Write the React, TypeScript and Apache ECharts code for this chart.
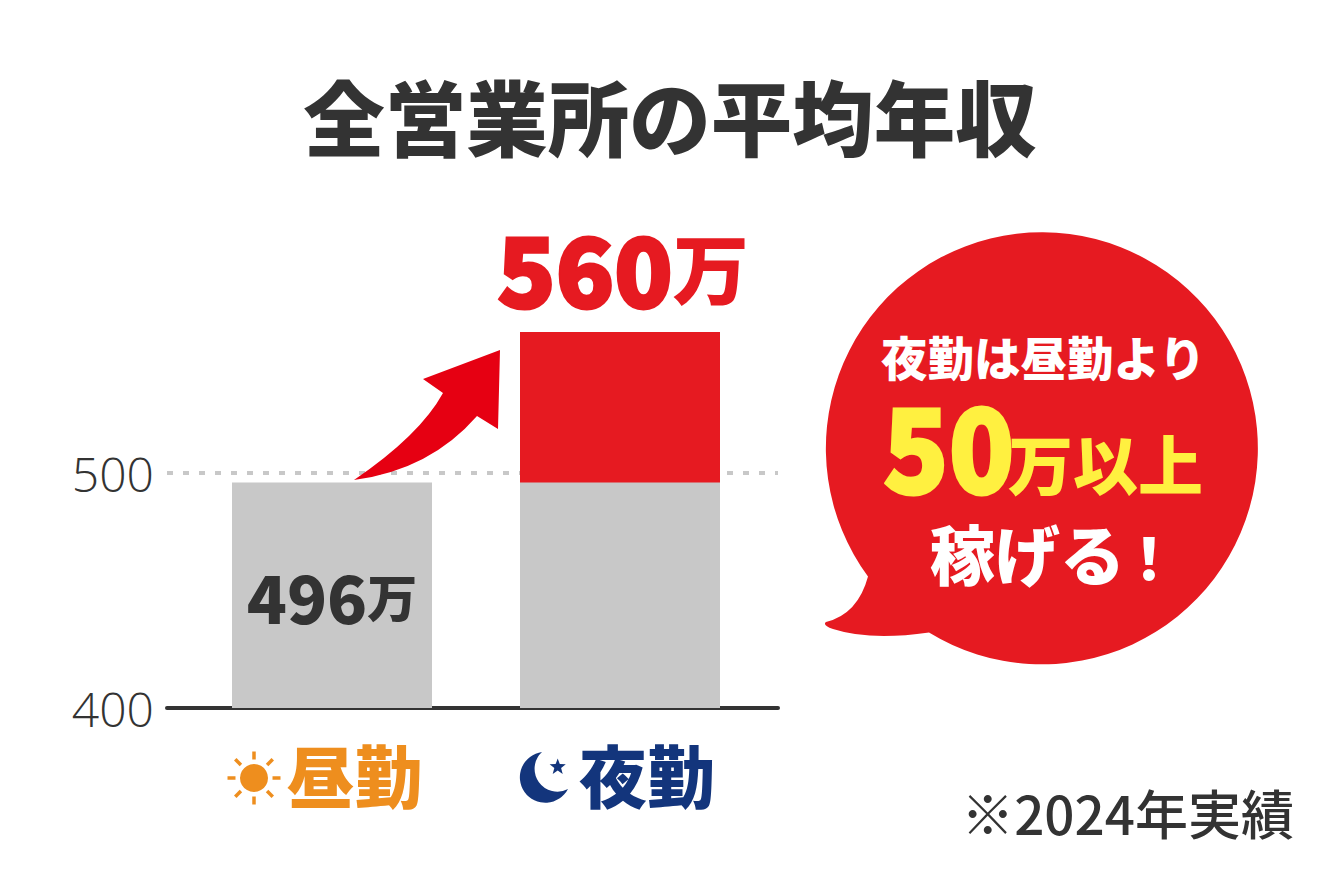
import React, { useEffect, useRef } from "react";
import * as echarts from "echarts";

const categories = ["昼勤", "夜勤"];
const baseValues = [496, 496];
const totalValues = [null, 560];
const unitLabel = "万";
const titleText = "全営業所の平均年収";
const footnote = "※2024年実績";
const bubbleLines = ["夜勤は昼勤より", "50", "万以上", "稼げる", "！"];

const FONT = '"Noto Sans CJK JP", "Noto Sans", sans-serif';
const RED = "#e61a21";

const BUBBLE_D =
  "M868 576.5 A216 216 0 1 1 929 632.5 Q870 641 833 629 Q822 625 826 622 Q858 614 868 576.5 Z";
const ARROW_D =
  "M354 480 Q420 435 443 393 L423 379 L500 350 L498 429 L477 416 Q430 470 354 480 Z";
const MOON_D = "M542 752 A25.5 25.5 0 1 0 568 789 A22.8 22.8 0 0 1 542 752 Z";

echarts.graphic.registerShape("bubbleShape", echarts.graphic.extendPath(BUBBLE_D, {}));
echarts.graphic.registerShape("arrowShape", echarts.graphic.extendPath(ARROW_D, {}));
echarts.graphic.registerShape("moonShape", echarts.graphic.extendPath(MOON_D, {}));

function starPoints(cx: number, cy: number, r: number) {
  const pts: number[][] = [];
  for (let i = 0; i < 10; i++) {
    const a = -Math.PI / 2 + (i * Math.PI) / 5;
    const rr = i % 2 === 0 ? r : r * 0.42;
    pts.push([cx + rr * Math.cos(a), cy + rr * Math.sin(a)]);
  }
  return pts;
}

function sunElements(cx: number, cy: number, color: string) {
  const els: any[] = [{ type: "circle", z: 10, shape: { cx, cy, r: 14 }, style: { fill: color } }];
  for (let i = 0; i < 8; i++) {
    const a = (i * Math.PI) / 4;
    els.push({
      type: "line",
      z: 10,
      shape: {
        x1: cx + 18.5 * Math.cos(a),
        y1: cy + 18.5 * Math.sin(a),
        x2: cx + 26.5 * Math.cos(a),
        y2: cy + 26.5 * Math.sin(a),
      },
      style: { stroke: color, lineWidth: 3.5 },
    });
  }
  return els;
}

function label(
  text: string,
  x: number,
  y: number,
  size: number,
  fill: string,
  align = "left",
  weight: any = 900,
  strokeW = 0,
  scaleX = 1
) {
  return {
    type: "text",
    z: 12,
    x,
    y,
    scaleX,
    style: {
      text,
      x: 0,
      y: 0,
      fill,
      align,
      verticalAlign: "middle",
      font: `${weight} ${size}px ${FONT}`,
      ...(strokeW ? { stroke: fill, lineWidth: strokeW } : {}),
    },
  };
}

export default function App() {
  const ref = useRef<HTMLDivElement>(null);
  useEffect(() => {
    const chart = echarts.init(ref.current!, undefined, { renderer: "svg" });
    chart.setOption({
      animation: false,
      backgroundColor: "#ffffff",
      textStyle: { fontFamily: FONT },
      title: {
        text: titleText,
        left: 665,
        top: 68,
        textAlign: "center",
        textStyle: { fontSize: 81.5, fontWeight: 900, color: "#333333", fontFamily: FONT },
      },
      grid: { left: 167, top: 238, width: 611, height: 470 },
      xAxis: {
        type: "value",
        min: -165 / 288,
        max: 446 / 288,
        splitLine: { show: false },
        axisTick: { show: false },
        axisLine: { show: true, lineStyle: { color: "#333333", width: 4, cap: "round" } },
        axisLabel: {
          customValues: [0, 1],
          margin: 31,
          formatter: (v: number) => `{${v === 0 ? "day" : "night"}|${categories[v]}}`,
          rich: {
            day: {
              fontSize: 68,
              fontWeight: 900,
              color: "#ee8e1e",
              fontFamily: FONT,
              lineHeight: 68,
              padding: [0, 0, 0, 45],
            },
            night: {
              fontSize: 68,
              fontWeight: 900,
              color: "#13357c",
              fontFamily: FONT,
              lineHeight: 68,
              padding: [0, 0, 0, 54],
            },
          },
        },
      },
      yAxis: {
        type: "value",
        min: 400,
        max: 600,
        interval: 100,
        axisLine: { show: false },
        axisTick: { show: false },
        axisLabel: {
          showMaxLabel: false,
          margin: 13,
          fontSize: 48,
          fontWeight: 300,
          color: "#333333",
          fontFamily: '"Open Sans", sans-serif',
        },
        splitLine: {
          show: true,
          showMinLine: false,
          showMaxLine: false,
          lineStyle: { color: "#c8c8c8", width: 4, type: [6, 10], cap: "butt" },
        },
      },
      series: [
        {
          type: "bar",
          barWidth: 200,
          barGap: "-100%",
          itemStyle: { color: RED },
          data: totalValues.map((v, i) => ({
            value: [i, v],
            label: {
              show: v !== null,
              position: "top",
              distance: 18,
              offset: [3, 0],
              formatter: () => `{num|${v}}{unit|${unitLabel}}`,
              rich: {
                num: {
                  fontSize: 96,
                  fontWeight: 900,
                  color: RED,
                  fontFamily: FONT,
                  textBorderColor: RED,
                  textBorderWidth: 3,
                },
                unit: { fontSize: 76, fontWeight: 900, color: RED, fontFamily: FONT },
              },
            },
          })),
        },
        {
          type: "bar",
          barWidth: 200,
          barGap: "-100%",
          itemStyle: { color: "#c8c8c8" },
          data: baseValues.map((v, i) => ({
            value: [i, v],
            label: {
              show: i === 0,
              position: "inside",
              formatter: () => `{num|${v}}{unit|${unitLabel}}`,
              rich: {
                num: { fontSize: 66, fontWeight: 900, color: "#333333", fontFamily: FONT },
                unit: { fontSize: 50, fontWeight: 900, color: "#333333", fontFamily: FONT },
              },
            },
          })),
        },
      ],
      graphic: [
        { type: "arrowShape", z: 9, style: { fill: "#e60012" } },
        { type: "bubbleShape", z: 9, style: { fill: RED } },
        ...sunElements(254, 778, "#ee8e1e"),
        { type: "moonShape", z: 10, style: { fill: "#13357c" } },
        { type: "polygon", z: 10, shape: { points: starPoints(557.7, 767, 8.5) }, style: { fill: "#13357c" } },
        label(bubbleLines[0], 881, 355, 46.5, "#ffffff"),
        label(bubbleLines[1], 883, 442, 116, "#fff040", "left", 900, 3, 0.93),
        label(bubbleLines[2], 1008, 462, 65, "#fff040"),
        label(bubbleLines[3], 930, 552, 65, "#ffffff"),
        label(bubbleLines[4], 1120, 555, 58, "#ffffff"),
        label(footnote, 1294, 812, 53, "#333333", "right", 500),
      ],
    });
    return () => chart.dispose();
  }, []);
  return <div ref={ref} style={{ position: "fixed", left: 0, top: 0, width: 1340, height: 880 }} />;
}
